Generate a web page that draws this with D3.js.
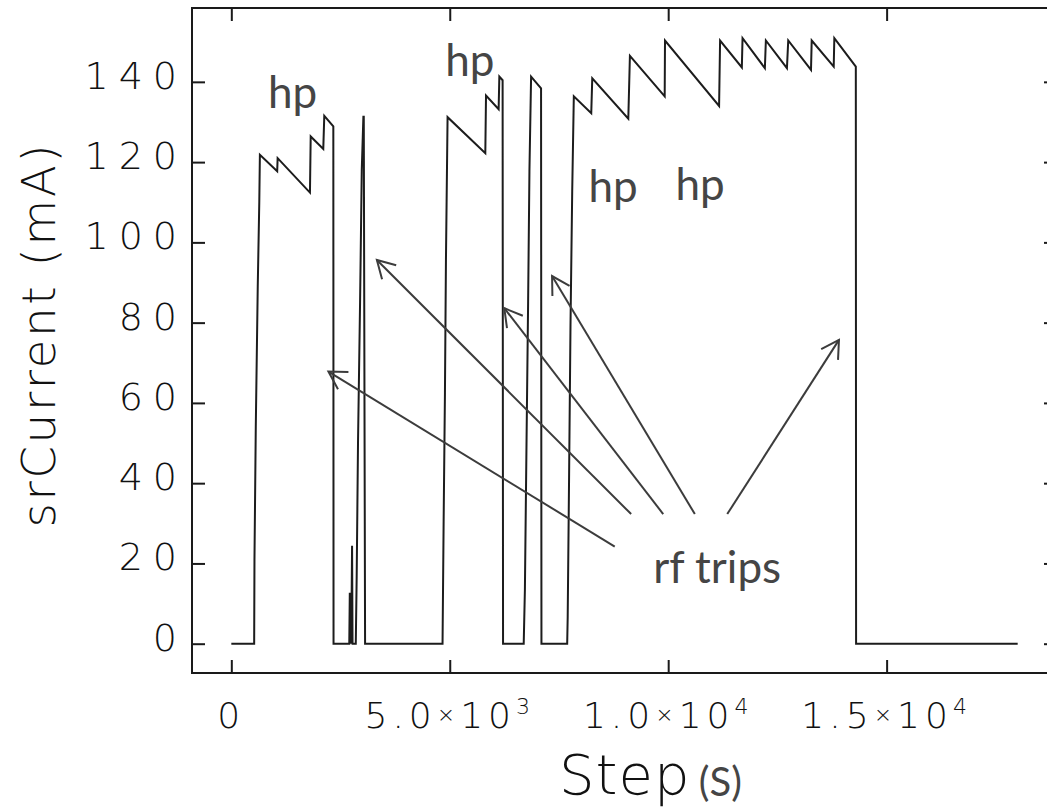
<!DOCTYPE html>
<html>
<head>
<meta charset="utf-8">
<script src="https://cdn.jsdelivr.net/npm/d3@7"></script>
<style>
	body { margin: 0; background: #fff; }
	.axis-text { font-family: "DejaVu Sans"; font-weight: 200; fill: #111; }
	.note { font-family: Lato, "Open Sans", sans-serif; fill: #454545; }
</style>
</head>
<body>
<svg id="chart" width="1047" height="810"></svg>
<script>
// beam current trace (step in s, current in mA)
let stepX = [
	0, 523, 530, 560, 605, 640, 654,
	1050, 1060, 1800, 1817, 2105, 2128, 2335, 2340,
	2700, 2712, 2722, 2735, 2745, 2764, 2775, 2849,
	2870, 2900, 2947, 2986, 3023, 3032, 3062,
	4835, 4860, 4890, 4913, 4950,
	5814, 5830, 6119, 6135, 6210, 6220,
	6693, 6720, 6760, 6794, 6824, 6862, 7090, 7099,
	7688, 7700, 7730, 7764, 7803, 7840,
	8239, 8262, 9087, 9124, 9920, 9927, 11165, 11188,
	11686, 11702, 12213, 12236, 12718, 12748, 13269, 13285,
	13789, 13803, 14295, 14301, 18000
];
let srCurrent = [
	0, 0, 21, 54, 89, 110, 121.8,
	117.7, 121.0, 112.4, 126.4, 123.3, 131.5, 128.9, 0,
	0, 12.7, 0, 12.7, 0, 24.4, 0, 0,
	17, 50, 85, 118, 131.3, 131.3, 0,
	0, 30.5, 62.5, 95.7, 131.2,
	122.2, 136.6, 133.2, 141.3, 140.4, 0,
	0, 13.4, 52.9, 85.3, 117.7, 141.3, 138.4, 0,
	0, 6.8, 40, 79.5, 112.7, 136.4,
	132.2, 140.9, 130.8, 146.5, 136.4, 150.3, 134, 150.3,
	143.6, 150.9, 143.4, 150.3, 143.4, 150.3, 143, 150.3,
	143.8, 150.9, 143.8, 0, 0
];

let xTicks		= [0, 5000, 10000, 15000];
let yTicks		= [0, 20, 40, 60, 80, 100, 120, 140];

// annotations, in data units
let hpX			= [841, 4897, 8174, 10167];
let hpY			= [133.5, 141.5, 110.1, 110.6];
let tripLabel	= { x: 9656, y: 15.1 };
let arrowFromX	= [8777, 9152, 9886, 10610, 11352];
let arrowFromY	= [24.2, 32.3, 32.3, 32.3, 32.3];
let arrowToX	= [2223, 3332, 6249, 7342, 13909];
let arrowToY	= [67.8, 95.6, 83.6, 91.6, 75.7];

let margin	= { top: 8, left: 192 };
let width	= 865;
let height	= 665;

let x = d3.scaleLinear().domain([-900, 18900]).range([0, width]);
let y = d3.scaleLinear().domain([-7.3, 158.4]).range([height, 0]);

let data = stepX.map((o, i) => ({ step: o, value: srCurrent[i] }));

let svg = d3.select("#chart").append("g")
	.attr("transform", "translate(" + margin.left + "," + margin.top + ")");

// inward ticks on all four sides
let tickLen = 13;
svg.append("g").call(d3.axisBottom(x).tickValues(xTicks).tickSize(-tickLen).tickFormat(""))
	.attr("transform", "translate(0," + height + ")");
svg.append("g").call(d3.axisTop(x).tickValues(xTicks).tickSize(-tickLen).tickFormat(""));
svg.append("g").call(d3.axisLeft(y).tickValues(yTicks).tickSize(-tickLen).tickFormat(""));
svg.append("g").call(d3.axisRight(y).tickValues(yTicks).tickSize(-tickLen).tickFormat(""))
	.attr("transform", "translate(" + width + ",0)");
svg.selectAll(".domain").remove();
svg.selectAll(".tick line").attr("stroke", "#1a1a1a").attr("stroke-width", 2);

svg.append("rect")
	.attr("width", width)
	.attr("height", height)
	.attr("fill", "none")
	.attr("stroke", "#1a1a1a")
	.attr("stroke-width", 2);

// y tick labels
svg.selectAll(".ylab")
	.data(yTicks)
	.enter().append("text")
		.attr("class", "axis-text ylab")
		.attr("x", -5)
		.attr("y", (o) => y(o) + 7)
		.attr("text-anchor", "end")
		.style("font-size", "38px")
		.style("letter-spacing", "10px")
		.text((o) => o);

// x tick labels, written as m.m x 10^e
let xl = svg.selectAll(".xlab")
	.data(xTicks)
	.enter().append("text")
		.attr("class", "axis-text xlab")
		.attr("x", (o) => x(o))
		.attr("y", height + 55)
		.attr("text-anchor", "middle")
		.style("font-size", "36px")
		.style("letter-spacing", "5px");

xl.each(function (o) {
	let t = d3.select(this);
	if (o === 0) { t.text("0"); return; }
	let e = Math.floor(Math.log10(o));
	t.append("tspan").text(d3.format(".1f")(o / Math.pow(10, e)));
	t.append("tspan").style("font-size", "22px").attr("dy", -6).text("×");
	t.append("tspan").attr("dy", 6).text("10");
	t.append("tspan").style("font-size", "22px").attr("dy", -14).text(e);
});

svg.append("text")
	.attr("class", "axis-text")
	.attr("x", x(7500))
	.attr("y", height + 121)
	.style("font-size", "56px")
	.style("letter-spacing", "1px")
	.text("Step");

svg.append("text")
	.attr("class", "note")
	.attr("x", x(10700))
	.attr("y", height + 123)
	.style("font-size", "40px")
	.text("(S)");

svg.append("text")
	.attr("class", "axis-text")
	.attr("transform", "translate(" + (-137) + "," + y(77) + ") rotate(-90)")
	.attr("text-anchor", "middle")
	.style("font-size", "47px")
	.style("letter-spacing", "2.5px")
	.text("srCurrent (mA)");

// the trace
let line = d3.line()
	.x((o) => x(o.step))
	.y((o) => y(o.value));

svg.append("path")
	.datum(data)
	.attr("fill", "none")
	.attr("stroke", "#1c1c1c")
	.attr("stroke-width", 2)
	.attr("d", line);

// hp labels
svg.selectAll(".hp")
	.data(hpX)
	.enter().append("text")
		.attr("class", "note hp")
		.attr("x", (o) => x(o))
		.attr("y", (o, i) => y(hpY[i]))
		.style("font-size", "44px")
		.text("hp");

svg.append("text")
	.attr("class", "note")
	.attr("x", x(tripLabel.x))
	.attr("y", y(tripLabel.y))
	.style("font-size", "44px")
	.text("rf trips");

// arrows with open heads
let barb = 20, spread = Math.PI / 6;
arrowFromX.forEach((o, i) => {
	let x1 = x(o), y1 = y(arrowFromY[i]);
	let x2 = x(arrowToX[i]), y2 = y(arrowToY[i]);
	let a = Math.atan2(y1 - y2, x1 - x2);
	let g = svg.append("g").attr("stroke", "#3c3c3c").attr("stroke-width", 2).attr("fill", "none");
	g.append("line").attr("x1", x1).attr("y1", y1).attr("x2", x2).attr("y2", y2);
	g.append("path").attr("d",
		"M" + (x2 + barb * Math.cos(a + spread)) + "," + (y2 + barb * Math.sin(a + spread)) +
		"L" + x2 + "," + y2 +
		"L" + (x2 + barb * Math.cos(a - spread)) + "," + (y2 + barb * Math.sin(a - spread)));
});
</script>
</body>
</html>
